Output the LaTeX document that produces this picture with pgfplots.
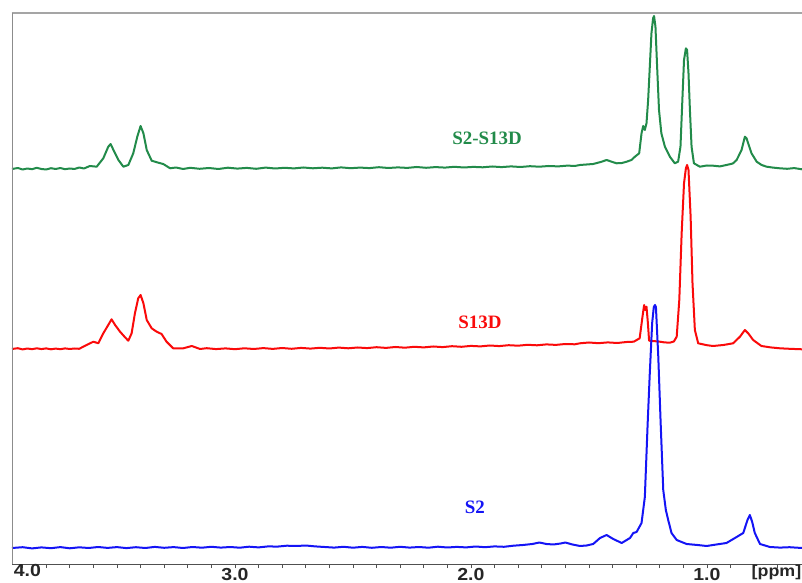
\documentclass[border=0pt]{standalone}
\usepackage{pgfplots}
\pgfplotsset{compat=1.18}
\usepackage{fontspec}
\setmainfont{Liberation Serif}
\newfontfamily\tickfont[FakeStretch=1.12]{Liberation Sans}
\definecolor{sgreen}{RGB}{34,139,74}
\definecolor{sred}{RGB}{250,10,10}
\definecolor{sblue}{RGB}{20,20,245}
\definecolor{axgray}{RGB}{80,80,80}
\definecolor{topgray}{RGB}{165,165,165}
\definecolor{leftgray}{RGB}{140,140,140}
\begin{document}
\begin{tikzpicture}
\useasboundingbox (-12bp,-19bp) rectangle (790bp,564bp);
\begin{axis}[
  at={(0,0)}, anchor=south west,
  width=790bp, height=551bp, scale only axis,
  x dir=reverse, xmin=0.597, xmax=3.945, ymin=2, ymax=553,
  axis x line*=bottom, axis y line=none, y axis line style={draw=none},
  x axis line style={axgray, line width=0.9bp, -},
  xtick={1,2,3}, xticklabels={1.0,2.0,3.0},
  extra x ticks={3.88,0.705}, extra x tick labels={4.0,{\fontsize{16}{16}\selectfont[ppm]}},
  extra x tick style={major tick length=0pt},
  minor xtick={0.7,0.8,...,3.95},
  tick align=outside, major tick length=4bp, minor tick length=4bp,
  tick style={axgray, line width=0.8bp},
  xticklabel style={font=\tickfont\bfseries\fontsize{17.5}{17.5}\selectfont, text=black!85, inner sep=0.5bp},
]
% S2-S13D (green)
\addplot[sgreen, line width=2bp, line join=round, mark=none] coordinates {
(3.945,397) (3.92,398) (3.90,396.5) (3.88,397.5) (3.86,396.8) (3.84,398.2) (3.82,397) (3.80,396.5)
(3.78,397.8) (3.76,397) (3.74,398) (3.72,396.8) (3.70,397.5) (3.68,397) (3.66,398.5) (3.64,397.5)
(3.615,400) (3.586,399.3) (3.558,407.7) (3.537,419.3) (3.527,422) (3.515,416) (3.494,406) (3.473,399.3)
(3.452,401) (3.431,412.7) (3.414,429.3) (3.400,440) (3.388,432.7) (3.374,416) (3.353,405.3) (3.325,403.3)
(3.304,402) (3.275,397.7) (3.25,398.5) (3.22,397) (3.19,398.2) (3.15,397.2) (3.11,398.0) (3.07,397.0)
(3.03,398.3) (2.99,397.4) (2.95,398.1) (2.91,397.2) (2.87,398.4) (2.83,397.5) (2.79,398.2) (2.75,397.6)
(2.71,398.5) (2.67,397.7) (2.63,398.3) (2.59,397.6) (2.55,398.6) (2.51,397.8) (2.47,398.4) (2.43,397.9)
(2.39,398.8) (2.35,398.0) (2.31,398.6) (2.27,398.1) (2.23,399.0) (2.19,398.2) (2.15,398.9) (2.11,398.4)
(2.07,399.2) (2.03,398.5) (1.99,399.1) (1.95,398.7) (1.91,399.5) (1.87,398.9) (1.83,399.6) (1.79,399.0)
(1.75,399.8) (1.71,399.3) (1.67,400.0) (1.63,399.6) (1.59,400.4) (1.56,400.0) (1.538,401) (1.482,402)
(1.45,404) (1.425,406) (1.40,404) (1.383,402.7) (1.36,403) (1.340,404.3) (1.32,406) (1.305,409.3)
(1.287,412.7) (1.277,432.7) (1.270,440) (1.263,436) (1.256,442.7) (1.249,466) (1.242,499.3) (1.235,532.7)
(1.228,547.7) (1.224,550) (1.218,539.3) (1.211,499.3) (1.203,456) (1.193,432.7) (1.178,419.3) (1.157,409.3)
(1.136,402.7) (1.122,404.3) (1.112,419.3) (1.104,466) (1.097,506) (1.089,517.7) (1.084,516) (1.078,492.7)
(1.072,456) (1.065,419.3) (1.055,402.7) (1.030,399.3) (1.00,400.5) (0.974,400.3) (0.945,399.6) (0.917,401)
(0.89,402.5) (0.874,406) (0.853,416) (0.839,429.3) (0.832,427.7) (0.825,422.7) (0.811,412.7) (0.789,404.3)
(0.768,401) (0.747,399.3) (0.72,398.4) (0.691,397.7) (0.66,397.2) (0.63,397.9) (0.597,396.7)
};
% S13D (red)
\addplot[sred, line width=2bp, line join=round, mark=none] coordinates {
(3.945,217) (3.92,217.8) (3.90,216.6) (3.88,217.5) (3.86,216.8) (3.84,217.7) (3.82,216.9) (3.80,217.6)
(3.78,216.7) (3.76,217.4) (3.74,216.8) (3.72,217.6) (3.70,217) (3.68,217.5) (3.66,217.2) (3.629,221)
(3.600,224.3) (3.579,222.7) (3.558,232.7) (3.537,241) (3.523,246.7) (3.508,241) (3.487,234.3) (3.466,228.7)
(3.452,225.3) (3.438,232.7) (3.424,252.7) (3.410,267.7) (3.400,271) (3.388,262.7) (3.374,246) (3.353,237.7)
(3.332,234.3) (3.311,232) (3.290,224.3) (3.262,217.7) (3.219,217.7) (3.183,220) (3.148,217)
(3.12,217.8) (3.08,216.9) (3.04,217.6) (3.00,216.8) (2.96,217.7) (2.92,217.0) (2.88,217.9) (2.84,217.1)
(2.80,218.0) (2.76,217.2) (2.72,218.1) (2.68,217.4) (2.64,218.2) (2.60,217.5) (2.56,218.4) (2.52,217.7)
(2.48,218.5) (2.44,217.9) (2.40,218.8) (2.36,218.1) (2.32,219.0) (2.28,218.3) (2.24,219.2) (2.20,218.6)
(2.16,219.5) (2.12,218.9) (2.08,219.8) (2.04,219.2) (2.00,220.1) (1.96,219.6) (1.92,220.5) (1.88,219.9)
(1.84,220.8) (1.80,220.3) (1.76,221.2) (1.72,220.7) (1.68,221.6) (1.64,221.1) (1.60,222.0) (1.56,221.7)
(1.538,222.7) (1.50,223.5) (1.46,222.8) (1.42,223.6) (1.38,223.0) (1.34,224.0) (1.31,224.3) (1.285,227.7)
(1.273,249.3) (1.266,261) (1.261,256) (1.256,259.3) (1.250,242.7) (1.245,225.3) (1.22,224.8) (1.199,224.3)
(1.18,223.6) (1.157,223.3) (1.14,224.5) (1.128,229.3) (1.117,266) (1.107,332.7) (1.097,382.7) (1.089,397.7)
(1.084,401) (1.078,396) (1.069,349.3) (1.061,282.7) (1.051,236) (1.037,222.7) (1.00,220.8) (0.974,220)
(0.93,221) (0.889,222.7) (0.860,229.3) (0.839,236) (0.825,232.7) (0.804,226) (0.769,220) (0.73,218.6)
(0.691,217.7) (0.65,217.2) (0.597,216.7)
};
% S2 (blue)
\addplot[sblue, line width=2bp, line join=round, mark=none] coordinates {
(3.945,18) (3.90,18.8) (3.86,17.6) (3.82,18.6) (3.78,17.8) (3.74,18.9) (3.70,17.7) (3.66,18.7)
(3.62,18.0) (3.58,19.0) (3.54,18.1) (3.50,18.9) (3.46,17.9) (3.42,18.8) (3.38,18.0) (3.34,19.1)
(3.30,18.2) (3.26,18.9) (3.22,18.0) (3.18,19.0) (3.14,18.3) (3.10,19.2) (3.06,18.4) (3.02,19.0)
(2.98,18.3) (2.94,19.3) (2.90,18.6) (2.86,19.6) (2.82,19.4) (2.78,20.3) (2.74,20.0) (2.70,20.5)
(2.66,19.6) (2.62,19.0) (2.58,18.4) (2.54,19.2) (2.50,18.3) (2.46,19.1) (2.42,18.2) (2.38,19.0)
(2.34,18.3) (2.30,19.2) (2.26,18.4) (2.22,19.0) (2.18,18.3) (2.14,19.3) (2.10,18.5) (2.06,19.1)
(2.02,18.6) (1.98,19.5) (1.94,18.8) (1.90,19.6) (1.86,19.2) (1.82,20.3) (1.78,21.0) (1.74,22.0)
(1.71,23.5) (1.68,22.0) (1.65,21.5) (1.62,22.5) (1.60,23.5) (1.57,21.5) (1.538,20.0) (1.51,20.5)
(1.482,22) (1.453,28) (1.425,31) (1.397,27) (1.361,23) (1.326,28) (1.312,33) (1.298,34)
(1.277,43) (1.263,69) (1.251,143) (1.242,193) (1.232,243) (1.225,259) (1.220,261) (1.216,259)
(1.206,209) (1.196,143) (1.185,76) (1.174,56) (1.164,46) (1.150,33) (1.128,26) (1.086,22)
(1.04,21) (1.001,20) (0.96,21.5) (0.917,23) (0.874,29) (0.846,33) (0.828,46) (0.818,51)
(0.808,44) (0.797,33) (0.775,22) (0.733,19) (0.69,18.4) (0.65,18.8) (0.597,18)
};
\node[text=sgreen, font=\bfseries\fontsize{19}{19}\selectfont] at (axis cs:1.932,428) {S2-S13D};
\node[text=sred, font=\bfseries\fontsize{19}{19}\selectfont] at (axis cs:1.962,244) {S13D};
\node[text=sblue, font=\bfseries\fontsize{19}{19}\selectfont] at (axis cs:1.983,59) {S2};
\end{axis}
\draw[topgray, line width=2.5bp] (-0.5bp,551bp) -- (790bp,551bp);
\draw[leftgray, line width=1bp] (0,0) -- (0,551bp);
\end{tikzpicture}
\end{document}
